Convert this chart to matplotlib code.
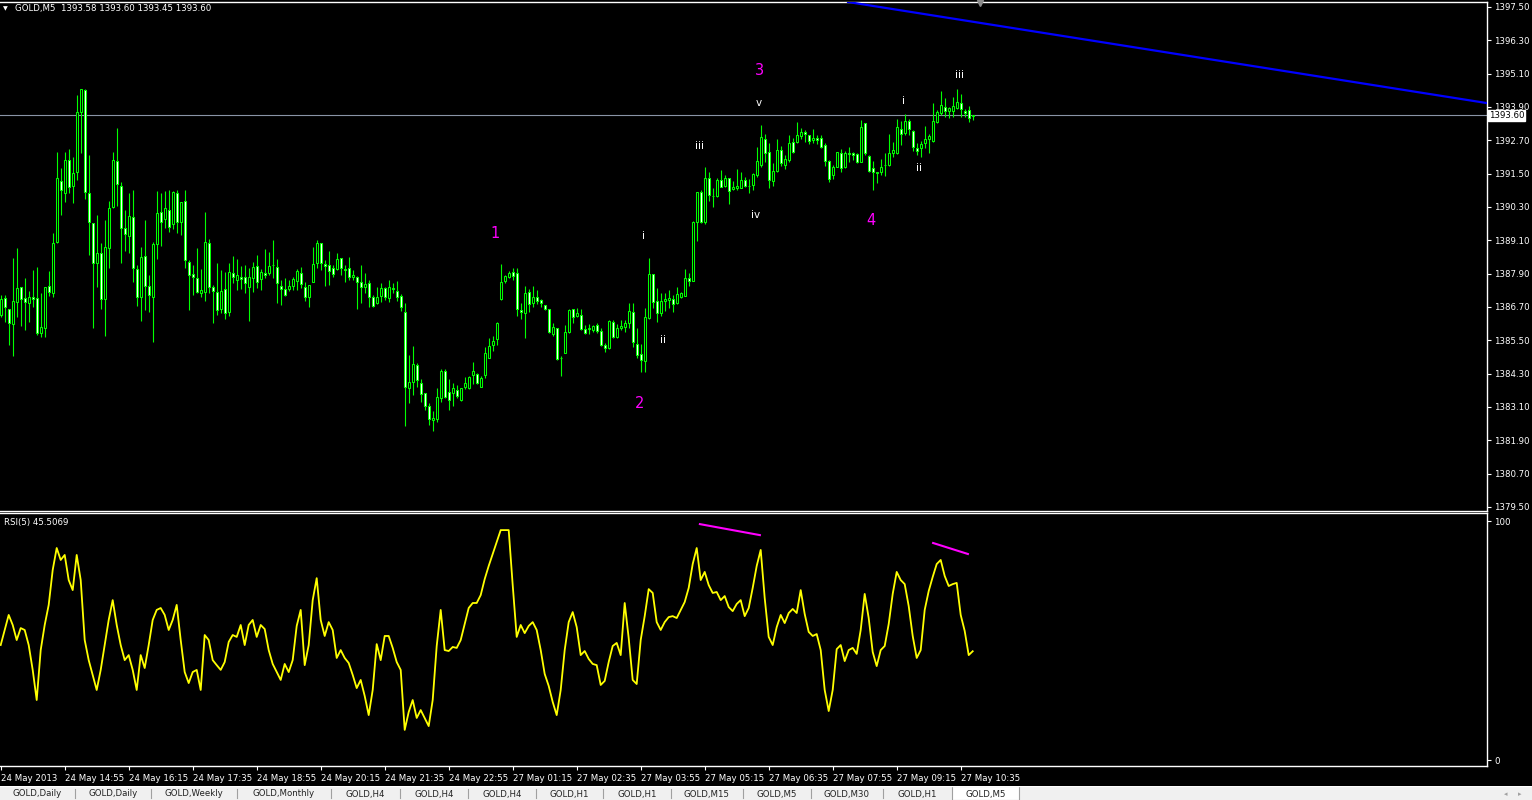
import numpy as np
import matplotlib.pyplot as plt
from matplotlib.lines import Line2D
from matplotlib.patches import Rectangle
import matplotlib.transforms as mtransforms

plt.rcParams['font.family'] = ['DejaVu Sans']

# GOLD M5 candles, 24 May 13:35 -> 27 May 10:50
opens = [
    1386.41, 1387.01, 1386.64, 1386.08, 1386.89, 1387.43, 1387.01, 1386.85, 1387.07, 1387.03,
    1385.75, 1385.93, 1387.47, 1387.19, 1389.03, 1391.25, 1390.79, 1391.98, 1391.06, 1391.55,
    1393.71, 1394.51, 1390.79, 1389.74, 1388.30, 1388.66, 1386.98, 1388.81, 1390.31, 1391.95,
    1391.06, 1389.54, 1389.27, 1389.95, 1388.06, 1387.05, 1388.55, 1387.47, 1387.07, 1388.96,
    1390.13, 1389.86, 1390.19, 1389.68, 1390.82, 1389.77, 1390.53, 1388.33, 1387.88, 1387.75,
    1387.21, 1387.23, 1388.99, 1387.43, 1387.25, 1386.62, 1387.34, 1386.51, 1387.91, 1387.67,
    1387.79, 1387.77, 1387.41, 1387.73, 1388.18, 1387.70, 1387.94, 1387.91, 1388.20, 1388.13,
    1387.46, 1387.34, 1387.35, 1387.47, 1387.65, 1387.91, 1387.41, 1387.07, 1387.61, 1388.27,
    1388.99, 1388.25, 1388.20, 1388.09, 1388.06, 1388.45, 1388.06, 1388.09, 1387.77, 1387.79,
    1387.59, 1387.43, 1387.55, 1387.07, 1386.83, 1387.11, 1387.37, 1387.01, 1387.37, 1387.29,
    1387.11, 1386.53, 1383.77, 1384.01, 1384.61, 1383.98, 1383.59, 1383.15, 1382.63, 1382.66,
    1383.41, 1384.39, 1383.63, 1383.59, 1383.71, 1383.35, 1383.81, 1383.77, 1384.24, 1384.28,
    1383.83, 1384.25, 1384.88, 1385.33, 1385.54, 1386.98, 1387.64, 1387.79, 1387.95, 1387.91,
    1386.59, 1386.50, 1387.25, 1386.83, 1387.05, 1386.95, 1386.76, 1386.62, 1385.73, 1385.93,
    1384.88, 1385.03, 1385.81, 1386.62, 1386.39, 1386.40, 1385.91, 1385.90, 1385.87, 1386.05,
    1385.84, 1385.33, 1385.21, 1386.17, 1385.63, 1385.93, 1385.99, 1386.11, 1386.51, 1385.37,
    1385.01, 1384.77, 1386.29, 1387.89, 1386.92, 1386.50, 1386.93, 1386.95, 1386.98, 1386.83,
    1387.05, 1387.11, 1387.73, 1387.65, 1389.77, 1390.83, 1389.77, 1391.33, 1390.71, 1390.71,
    1391.27, 1391.07, 1391.33, 1390.94, 1391.00, 1391.00, 1391.27, 1391.07, 1391.09, 1391.45,
    1391.81, 1392.74, 1392.29, 1391.25, 1391.61, 1392.35, 1391.81, 1391.99, 1392.63, 1392.63,
    1392.87, 1393.01, 1392.89, 1392.71, 1392.77, 1392.77, 1392.53, 1391.96, 1391.45, 1391.75,
    1392.23, 1391.73, 1392.23, 1392.23, 1392.21, 1391.93, 1393.31, 1392.15, 1391.69, 1391.55,
    1391.57, 1391.81, 1391.81, 1392.26, 1392.23, 1393.10, 1392.95, 1393.40, 1393.04, 1392.44,
    1392.44, 1392.62, 1392.74, 1392.69, 1393.37, 1393.67, 1393.89, 1393.77, 1393.77, 1393.85,
    1394.03, 1393.77, 1393.79, 1393.58,
]
highs = [
    1387.13, 1387.13, 1386.64, 1388.45, 1388.81, 1387.43, 1387.73, 1387.28, 1388.03, 1388.13,
    1387.19, 1387.43, 1388.01, 1389.35, 1392.27, 1391.69, 1392.27, 1392.38, 1392.11, 1394.33,
    1394.54, 1394.54, 1392.17, 1389.74, 1390.01, 1388.99, 1389.83, 1390.52, 1392.27, 1393.13,
    1391.21, 1390.19, 1390.79, 1390.91, 1388.21, 1388.87, 1389.83, 1387.85, 1389.05, 1390.88,
    1390.79, 1390.88, 1390.91, 1390.88, 1390.91, 1390.49, 1390.91, 1388.39, 1388.21, 1388.81,
    1388.07, 1390.11, 1389.14, 1387.49, 1388.30, 1388.03, 1387.97, 1388.30, 1388.54, 1388.43,
    1388.18, 1388.21, 1388.12, 1388.31, 1388.57, 1388.06, 1388.79, 1388.69, 1389.11, 1388.42,
    1387.67, 1387.73, 1387.67, 1387.79, 1388.06, 1388.15, 1387.61, 1387.49, 1388.87, 1389.11,
    1388.99, 1388.39, 1388.73, 1388.21, 1388.63, 1388.45, 1388.21, 1388.49, 1388.03, 1387.82,
    1388.21, 1387.91, 1387.67, 1387.13, 1387.43, 1387.58, 1387.43, 1387.67, 1387.55, 1387.64,
    1387.17, 1386.85, 1384.97, 1385.30, 1384.67, 1384.10, 1383.59, 1383.23, 1382.96, 1383.77,
    1384.46, 1384.46, 1384.11, 1383.98, 1383.89, 1383.77, 1384.19, 1384.23, 1384.71, 1384.31,
    1384.23, 1385.27, 1385.57, 1385.66, 1386.17, 1388.25, 1387.85, 1388.01, 1388.12, 1388.09,
    1386.83, 1387.46, 1387.34, 1387.46, 1387.31, 1386.98, 1386.77, 1386.62, 1386.11, 1385.93,
    1384.94, 1386.05, 1386.62, 1386.62, 1386.65, 1386.62, 1386.05, 1386.09, 1386.05, 1386.11,
    1385.93, 1385.39, 1386.23, 1386.23, 1386.09, 1386.23, 1386.23, 1386.85, 1386.85, 1385.93,
    1385.37, 1386.65, 1388.48, 1387.89, 1387.37, 1387.19, 1387.19, 1387.31, 1387.13, 1387.43,
    1387.25, 1388.07, 1387.91, 1389.80, 1390.83, 1390.91, 1391.75, 1391.57, 1390.97, 1391.33,
    1391.63, 1391.45, 1391.33, 1391.25, 1391.66, 1391.57, 1391.37, 1391.30, 1391.54, 1392.47,
    1393.25, 1392.93, 1392.62, 1391.87, 1392.74, 1392.50, 1392.17, 1392.89, 1392.77, 1393.37,
    1393.13, 1393.07, 1392.89, 1393.10, 1392.89, 1392.89, 1392.59, 1391.99, 1391.81, 1392.29,
    1392.38, 1392.33, 1392.47, 1392.29, 1392.23, 1393.43, 1393.34, 1392.17, 1391.97, 1391.57,
    1392.03, 1392.23, 1392.93, 1392.65, 1393.46, 1393.40, 1393.64, 1393.46, 1393.07, 1392.62,
    1392.68, 1393.22, 1392.93, 1394.03, 1393.79, 1394.48, 1394.21, 1393.91, 1394.25, 1394.54,
    1394.37, 1393.82, 1393.94, 1393.60,
]
lows = [
    1386.33, 1386.17, 1385.33, 1384.94, 1386.35, 1386.02, 1385.87, 1386.17, 1386.71, 1385.69,
    1385.63, 1385.63, 1387.10, 1387.07, 1388.99, 1390.01, 1390.49, 1390.82, 1390.46, 1391.27,
    1392.23, 1390.58, 1388.57, 1385.96, 1387.43, 1386.62, 1385.66, 1388.09, 1390.28, 1390.34,
    1388.30, 1388.73, 1388.63, 1387.61, 1386.74, 1386.21, 1386.59, 1386.53, 1385.45, 1388.42,
    1388.91, 1389.53, 1389.41, 1389.50, 1389.38, 1389.29, 1388.09, 1386.59, 1387.13, 1387.19,
    1387.07, 1386.93, 1387.19, 1386.14, 1386.41, 1386.47, 1386.26, 1386.38, 1387.55, 1387.31,
    1387.34, 1387.21, 1386.21, 1387.25, 1387.37, 1387.31, 1387.73, 1387.85, 1387.73, 1386.83,
    1386.77, 1387.11, 1387.29, 1387.31, 1387.31, 1387.37, 1386.93, 1386.71, 1387.61, 1388.09,
    1388.03, 1387.46, 1387.49, 1387.79, 1388.03, 1387.85, 1387.61, 1387.67, 1387.67, 1386.63,
    1386.85, 1387.19, 1386.69, 1386.69, 1386.81, 1386.89, 1386.95, 1386.89, 1387.19, 1386.93,
    1386.57, 1382.42, 1383.26, 1383.53, 1383.83, 1383.29, 1382.99, 1382.45, 1382.25, 1382.57,
    1383.29, 1383.41, 1382.99, 1383.15, 1383.44, 1383.33, 1383.74, 1383.74, 1383.93, 1383.93,
    1383.83, 1384.13, 1384.88, 1385.13, 1385.33, 1386.95, 1387.55, 1387.73, 1387.67, 1386.38,
    1386.27, 1385.57, 1386.53, 1386.69, 1386.81, 1386.71, 1386.59, 1385.75, 1385.66, 1384.79,
    1384.22, 1385.03, 1385.78, 1386.11, 1386.35, 1385.87, 1385.72, 1385.72, 1385.81, 1385.75,
    1385.30, 1385.09, 1385.19, 1385.57, 1385.57, 1385.87, 1385.81, 1385.93, 1385.27, 1384.85,
    1384.37, 1384.37, 1386.26, 1386.65, 1386.17, 1386.39, 1386.57, 1386.65, 1386.53, 1386.81,
    1387.01, 1387.11, 1387.47, 1387.65, 1389.09, 1389.71, 1389.69, 1390.53, 1390.29, 1390.65,
    1391.03, 1391.03, 1390.41, 1390.91, 1390.91, 1390.97, 1391.03, 1390.82, 1390.91, 1391.39,
    1391.73, 1391.93, 1390.97, 1391.06, 1391.57, 1391.78, 1391.67, 1391.93, 1392.23, 1392.59,
    1392.75, 1392.65, 1392.57, 1392.59, 1392.57, 1392.44, 1391.79, 1391.19, 1391.31, 1391.73,
    1391.57, 1391.69, 1391.93, 1391.99, 1391.90, 1391.91, 1392.17, 1391.55, 1390.91, 1391.15,
    1391.45, 1391.42, 1391.79, 1392.11, 1392.21, 1392.53, 1392.89, 1392.89, 1392.33, 1392.17,
    1392.11, 1392.41, 1392.23, 1392.65, 1393.31, 1393.61, 1393.53, 1393.49, 1393.55, 1393.82,
    1393.55, 1393.55, 1393.37, 1393.45,
]
closes = [
    1386.98, 1386.69, 1386.11, 1386.93, 1387.39, 1386.98, 1386.89, 1387.07, 1386.98, 1385.75,
    1385.99, 1387.43, 1387.25, 1389.02, 1391.33, 1390.91, 1391.98, 1391.01, 1391.51, 1393.73,
    1394.54, 1390.85, 1389.77, 1388.27, 1388.66, 1387.00, 1388.87, 1390.28, 1391.98, 1391.13,
    1389.53, 1389.32, 1389.99, 1388.09, 1387.07, 1388.51, 1387.47, 1387.13, 1388.96, 1390.10,
    1389.77, 1390.28, 1389.57, 1390.85, 1389.77, 1390.49, 1388.39, 1387.85, 1387.77, 1387.25,
    1387.31, 1389.05, 1387.43, 1387.28, 1386.59, 1387.27, 1386.47, 1387.95, 1387.77, 1387.86,
    1387.70, 1387.58, 1387.79, 1388.13, 1387.61, 1387.97, 1387.85, 1388.18, 1388.21, 1387.55,
    1387.36, 1387.13, 1387.47, 1387.71, 1388.00, 1387.52, 1387.07, 1387.49, 1388.24, 1388.99,
    1388.27, 1388.18, 1388.00, 1387.88, 1388.42, 1388.09, 1388.05, 1387.77, 1387.84, 1387.61,
    1387.43, 1387.53, 1387.07, 1386.74, 1387.07, 1387.37, 1387.07, 1387.43, 1387.36, 1387.07,
    1386.71, 1383.83, 1384.01, 1384.64, 1384.07, 1383.56, 1383.15, 1382.66, 1382.69, 1383.47,
    1384.39, 1383.47, 1383.35, 1383.77, 1383.51, 1383.77, 1383.95, 1384.19, 1384.39, 1383.95,
    1384.13, 1385.06, 1385.31, 1385.49, 1386.11, 1387.59, 1387.82, 1387.94, 1387.82, 1386.62,
    1386.53, 1387.19, 1386.80, 1387.07, 1386.93, 1386.85, 1386.63, 1385.81, 1385.97, 1384.82,
    1384.87, 1385.79, 1386.59, 1386.35, 1386.50, 1385.90, 1385.75, 1385.96, 1386.03, 1385.84,
    1385.33, 1385.21, 1386.20, 1385.61, 1385.93, 1386.02, 1386.14, 1386.55, 1385.43, 1384.97,
    1384.79, 1386.33, 1387.89, 1386.89, 1386.50, 1386.92, 1386.99, 1387.03, 1386.80, 1387.17,
    1387.19, 1387.75, 1387.64, 1389.75, 1390.83, 1389.77, 1391.33, 1390.73, 1390.70, 1391.27,
    1391.03, 1391.33, 1390.89, 1391.01, 1391.06, 1391.27, 1391.07, 1391.06, 1391.48, 1391.96,
    1392.81, 1392.26, 1391.27, 1391.61, 1392.35, 1391.87, 1392.03, 1392.59, 1392.27, 1392.89,
    1393.01, 1392.92, 1392.68, 1392.77, 1392.71, 1392.47, 1391.97, 1391.31, 1391.73, 1392.27,
    1391.72, 1392.23, 1392.22, 1392.17, 1391.93, 1393.17, 1392.23, 1391.61, 1391.57, 1391.54,
    1391.73, 1391.80, 1392.26, 1392.35, 1393.17, 1392.92, 1393.40, 1393.10, 1392.47, 1392.33,
    1392.57, 1392.74, 1392.86, 1393.40, 1393.71, 1393.97, 1393.77, 1393.85, 1393.94, 1394.07,
    1393.83, 1393.67, 1393.49, 1393.60,
]

# RSI(5)
rsi_values = [
    48.1, 54.4, 60.7, 56.5, 50.2, 55.2, 54.4, 48.1, 37.7, 25.1,
    46.0, 56.5, 64.9, 79.5, 88.7, 83.7, 85.8, 75.3, 71.1, 85.8,
    75.3, 50.2, 41.8, 35.6, 29.3, 37.7, 48.1, 58.6, 66.9, 56.5,
    48.1, 41.8, 43.9, 37.7, 29.3, 43.9, 38.5, 48.1, 58.6, 62.8,
    63.6, 60.7, 54.4, 58.6, 64.9, 50.2, 36.8, 32.2, 36.8, 37.7,
    29.3, 52.3, 50.2, 41.8, 39.7, 37.7, 41.0, 49.4, 52.3, 51.5,
    56.5, 48.1, 56.5, 58.6, 51.5, 56.5, 54.8, 46.0, 40.2, 36.8,
    33.5, 40.2, 36.8, 41.8, 56.1, 62.8, 39.7, 48.1, 66.9, 76.1,
    58.6, 51.9, 57.7, 54.4, 42.7, 46.0, 42.7, 40.6, 35.6, 30.1,
    33.5, 26.8, 18.8, 29.3, 48.5, 41.8, 51.9, 51.9, 46.9, 41.0,
    37.7, 12.6, 20.1, 25.1, 17.6, 20.9, 17.6, 14.2, 25.1, 47.7,
    62.8, 46.0, 45.6, 47.3, 46.9, 50.2, 56.9, 63.6, 65.7, 65.7,
    69.0, 75.7, 81.2, 86.2, 91.2, 96.2, 96.2, 96.2, 73.2, 51.5,
    56.5, 53.1, 56.1, 57.7, 54.4, 46.0, 36.0, 31.0, 24.3, 18.8,
    29.3, 46.0, 57.7, 61.9, 55.6, 43.9, 45.6, 42.3, 40.2, 39.7,
    31.4, 33.1, 41.0, 47.7, 49.0, 43.9, 65.7, 51.0, 33.5, 31.8,
    50.2, 60.2, 71.5, 69.9, 57.7, 54.4, 57.7, 59.8, 60.2, 59.4,
    62.8, 66.1, 72.0, 82.0, 88.7, 75.3, 78.7, 73.2, 69.9, 70.3,
    66.9, 68.6, 64.0, 62.3, 65.3, 66.9, 60.2, 63.6, 72.0, 81.2,
    87.9, 67.8, 51.5, 48.1, 55.6, 60.7, 57.3, 61.5, 63.2, 61.5,
    71.1, 61.1, 53.6, 51.9, 52.7, 46.0, 29.3, 20.5, 29.3, 46.4,
    48.1, 41.4, 46.0, 46.9, 44.4, 54.4, 69.5, 59.4, 45.2, 39.3,
    46.0, 47.7, 56.9, 69.5, 78.7, 75.3, 73.6, 64.4, 51.9, 42.7,
    46.0, 62.8, 70.7, 76.6, 82.0, 83.7, 77.0, 72.8, 73.6, 74.1,
    60.7, 54.0, 43.9, 45.51,
]
rsi_current = 45.5069

time_labels = ["24 May 2013", "24 May 14:55", "24 May 16:15", "24 May 17:35", "24 May 18:55",
               "24 May 20:15", "24 May 21:35", "24 May 22:55", "27 May 01:15", "27 May 02:35",
               "27 May 03:55", "27 May 05:15", "27 May 06:35", "27 May 07:55", "27 May 09:15",
               "27 May 10:35"]
bars_per_label = 16

price_ticks = [1379.50, 1380.70, 1381.90, 1383.10, 1384.30, 1385.50, 1386.70, 1387.90,
               1389.10, 1390.30, 1391.50, 1392.70, 1393.90, 1395.10, 1396.30, 1397.50]

# elliott wave marks (bar index, price, label)
wave_major = [(123.6, 1389.33, "1"), (159.6, 1383.24, "2"), (189.6, 1395.20, "3"), (217.6, 1389.80, "4")]
wave_minor = [(160.6, 1389.26, "i"), (165.6, 1385.51, "ii"), (174.6, 1392.50, "iii"),
              (188.8, 1390.01, "iv"), (189.6, 1394.04, "v"), (225.6, 1394.12, "i"),
              (229.6, 1391.70, "ii"), (239.6, 1395.05, "iii")]

trend_pts = [(213.6, 1397.64), (371.6, 1394.04)]
rsi_div_1 = [(174.8, 98.7), (189.8, 94.1)]
rsi_div_2 = [(233.1, 90.8), (241.8, 86.2)]

tab_names = ["GOLD,Daily", "GOLD,Daily", "GOLD,Weekly", "GOLD,Monthly", "GOLD,H4", "GOLD,H4",
             "GOLD,H4", "GOLD,H1", "GOLD,H1", "GOLD,M15", "GOLD,M5", "GOLD,M30", "GOLD,H1", "GOLD,M5"]
tab_edges = [0, 75, 151, 237, 331, 400, 468, 536, 603, 671, 743, 811, 883, 952, 1019]

W, H = 1532, 800
GREEN = '#00ff00'
fig = plt.figure(figsize=(W / 100, H / 100), dpi=100, facecolor='black')


def box(x0, y0, x1, y1):
    return [x0 / W, 1 - y1 / H, (x1 - x0) / W, (y1 - y0) / H]


ax = fig.add_axes(box(0, 2, 1487, 511), facecolor='black')
rax = fig.add_axes(box(0, 513, 1487, 766), facecolor='black')

xmin = -0.175
xmax = xmin + 1487 / 4
for a in (ax, rax):
    a.set_xlim(xmin, xmax)
    for s in a.spines.values():
        s.set_color('white')
        s.set_linewidth(1)
    a.spines['left'].set_visible(False)

# --- candles
idx = np.arange(len(closes))
o = np.array(opens)
c = np.array(closes)
bull = c >= o
ax.vlines(idx, lows, highs, color=GREEN, lw=0.8, zorder=2)
ax.bar(idx, np.maximum(np.abs(c - o), 0.004), bottom=np.minimum(o, c), width=0.5,
       color=np.where(bull, 'black', 'white'), edgecolor=GREEN, linewidth=0.75, zorder=3)

ax.set_ylim(1379.356, 1397.68)
ax.axhline(closes[-1], color='#8a94a6', lw=0.8, zorder=1)
ax.axline(trend_pts[0], trend_pts[1], color='#0000ff', lw=1.6, zorder=4)

ax.yaxis.tick_right()
ax.set_yticks(price_ticks)
ax.set_yticklabels([f"{p:.2f}" for p in price_ticks])
ax.tick_params(axis='y', colors='white', labelsize=6.2, length=3, width=0.8, pad=2)
ax.set_xticks([])

lbl_tr = mtransforms.blended_transform_factory(ax.transAxes, ax.transData)
ax.text(1.0013, closes[-1], f"{closes[-1]:.2f}", transform=lbl_tr, ha='left', va='center',
        fontsize=6.2, color='black', zorder=6, clip_on=False,
        bbox=dict(boxstyle='square,pad=0.12', fc='white', ec='white'))

for x, y, t in wave_major:
    ax.text(x, y, t, color='#ff00ff', fontsize=10.5, ha='center', va='center', zorder=5)
for x, y, t in wave_minor:
    ax.text(x, y, t, color='white', fontsize=7.5, ha='center', va='center', zorder=5)

fig.text(3 / W, 1 - 9 / H, '\u25BC', color='white', fontsize=4.5, va='center')
fig.text(15 / W, 1 - 9 / H, f"GOLD,M5  {opens[-1]:.2f} {highs[-1]:.2f} {lows[-1]:.2f} {closes[-1]:.2f}",
         color='white', fontsize=6.2, va='center')
fig.add_artist(Line2D([980 / W], [1 - 3 / H], marker='v', color='#8c8c8c', markersize=5,
                      transform=fig.transFigure))

# --- RSI window
ridx = np.arange(len(rsi_values))
rax.plot(ridx, rsi_values, color='#ffff00', lw=1.3)
rax.plot(*zip(*rsi_div_1), color='#ff00ff', lw=1.5)
rax.plot(*zip(*rsi_div_2), color='#ff00ff', lw=1.5)
rax.set_ylim(-2.5, 103.35)
rax.yaxis.tick_right()
rax.set_yticks([0, 100])
rax.set_yticklabels(['0', '100'])
rax.tick_params(axis='y', colors='white', labelsize=6.2, length=3, width=0.8, pad=2)
rax.text(4 / 1487, 1 - 9 / 253, f"RSI(5) {rsi_current:.4f}", transform=rax.transAxes,
         color='white', fontsize=6.2, va='center', ha='left')

tick_pos = [i * bars_per_label for i in range(len(time_labels))]
rax.set_xticks(tick_pos)
rax.set_xticklabels(time_labels)
rax.tick_params(axis='x', colors='white', labelsize=6.2, length=3, width=0.8, pad=2.5)
for t in rax.get_xticklabels():
    t.set_ha('left')

# --- tab bar at the bottom
tb = fig.add_axes(box(0, 786, W, 800), facecolor='#f0f0f0')
tb.set_xlim(0, W)
tb.set_ylim(14, 0)
tb.axis('off')
tb.add_patch(Rectangle((0, 0), W, 14, fc='#f0f0f0', ec='none'))
tb.axhline(0.3, color='white', lw=1)
for k, name in enumerate(tab_names):
    x0, x1 = tab_edges[k], tab_edges[k + 1]
    if k == len(tab_names) - 1:
        tb.add_patch(Rectangle((x0, 0), x1 - x0, 14, fc='white', ec='#a0a0a0', lw=0.8))
    elif k > 0:
        tb.plot([x0, x0], [3, 12], color='#a0a0a0', lw=0.8)
    tb.text((x0 + x1) / 2, 8, name, ha='center', va='center', fontsize=6.2, color='#222222')
tb.text(1506, 8, '\u25C2', ha='center', va='center', fontsize=5, color='#a0a0a0')
tb.text(1520, 8, '\u25B8', ha='center', va='center', fontsize=5, color='#a0a0a0')

fig.savefig('out.png', dpi=100, facecolor='black')
